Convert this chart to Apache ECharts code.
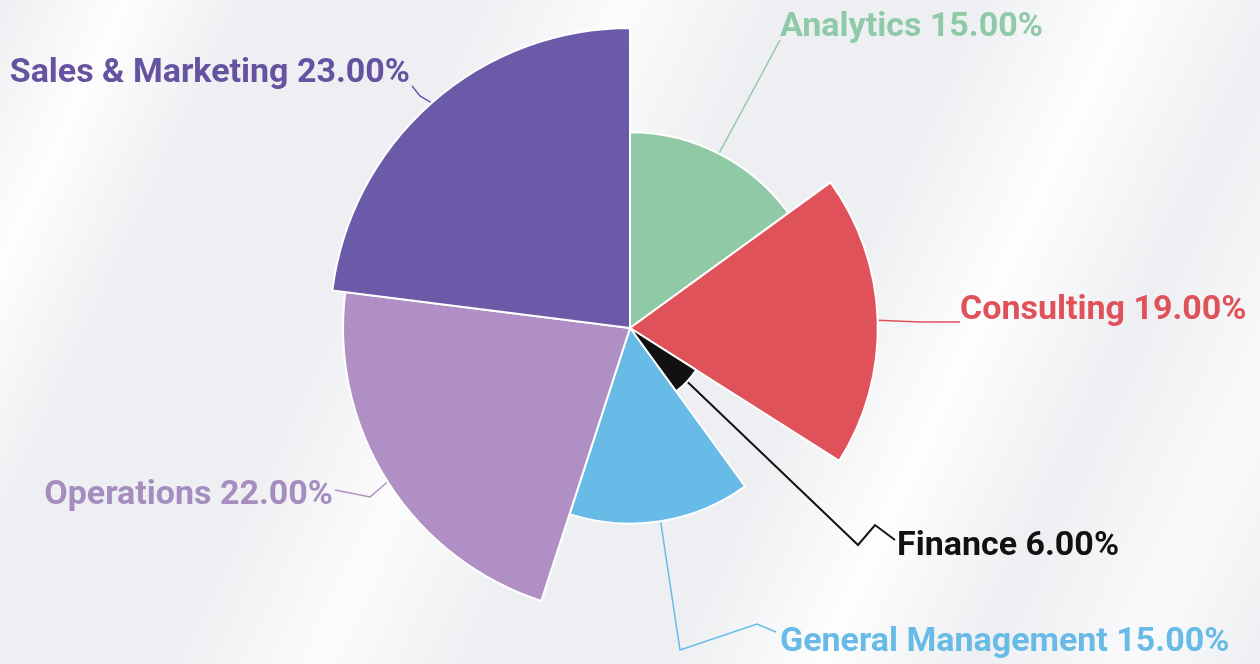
<!DOCTYPE html>
<html><head><meta charset="utf-8">
<script src="https://cdn.jsdelivr.net/npm/echarts@6/dist/echarts.min.js"></script>
<style>
html,body{margin:0;padding:0;width:1260px;height:664px;overflow:hidden;}
body{background:
 linear-gradient(115deg, rgba(255,255,255,0) 0%, rgba(255,255,255,0.9) 8%, rgba(255,255,255,0) 16%, rgba(255,255,255,0) 30%, rgba(255,255,255,0.8) 40%, rgba(255,255,255,0) 50%, rgba(255,255,255,0) 62%, rgba(255,255,255,0.9) 72%, rgba(255,255,255,0) 82%, rgba(255,255,255,0.7) 92%, rgba(255,255,255,0) 100%), #eeeff2;}
#c{width:1260px;height:664px;}
</style></head>
<body><div id="c"></div>
<script>
const categories = ['Analytics','Consulting','Finance','General Management','Operations','Sales & Marketing'];
const values = [15, 19, 6, 15, 22, 23];
const colors = ['#8fc9a6','#e0525a','#111111','#67bbe6','#b08fc5','#6b5aa8'];
const labelColors = ['#8fcaa8','#e0525a','#111111','#67bbe6','#a68dc0','#6552a0'];

// label placement: anchor point, alignment and label-line bend points
const labelPlace = {
  'Analytics':          {x:780, y:27,  align:'left',  bends:[[750,96],[780,40]]},
  'Consulting':         {x:960, y:310, align:'left',  bends:[[920,322],[960,322]]},
  'Finance':            {x:897, y:546, align:'left',  bends:[[858,545],[875,525],[895,540]]},
  'General Management': {x:780, y:642, align:'left',  bends:[[680,650],[757,624],[776,632]]},
  'Operations':         {x:333, y:495, align:'right', bends:[[370,497],[335,490]]},
  'Sales & Marketing':  {x:410, y:73,  align:'right', bends:[[420,96],[412,86]]}
};

const chart = echarts.init(document.getElementById('c'), null, {renderer:'canvas'});
chart.setOption({
  backgroundColor: 'transparent',
  animation: false,
  series: [{
    type: 'pie',
    roseType: 'radius',
    center: [630, 328],
    radius: [0, 300],
    startAngle: 90,
    clockwise: true,
    avoidLabelOverlap: false,
    itemStyle: {borderColor:'#ffffff', borderWidth:2},
    label: {
      show: true,
      fontFamily: 'Roboto',
      fontWeight: 'bold',
      fontSize: 34,
      formatter: p => p.name + ' ' + p.value.toFixed(2) + '%'
    },
    labelLine: {show: true, length: 20, length2: 20, lineStyle: {width: 1.5}},
    labelLayout: function (params) {
      const name = categories[params.dataIndex];
      const lp = labelPlace[name];
      const start = params.labelLinePoints ? params.labelLinePoints[0] : [0,0];
      return {
        x: lp.x, y: lp.y, align: lp.align, verticalAlign: 'middle',
        labelLinePoints: [start].concat(lp.bends)
      };
    },
    data: categories.map((n, i) => ({
      name: n, value: values[i],
      itemStyle: {color: colors[i]},
      label: {color: labelColors[i]},
      labelLine: {lineStyle: {color: colors[i], width: n === 'Finance' ? 2 : 1.5}}
    }))
  }]
});
</script></body></html>
